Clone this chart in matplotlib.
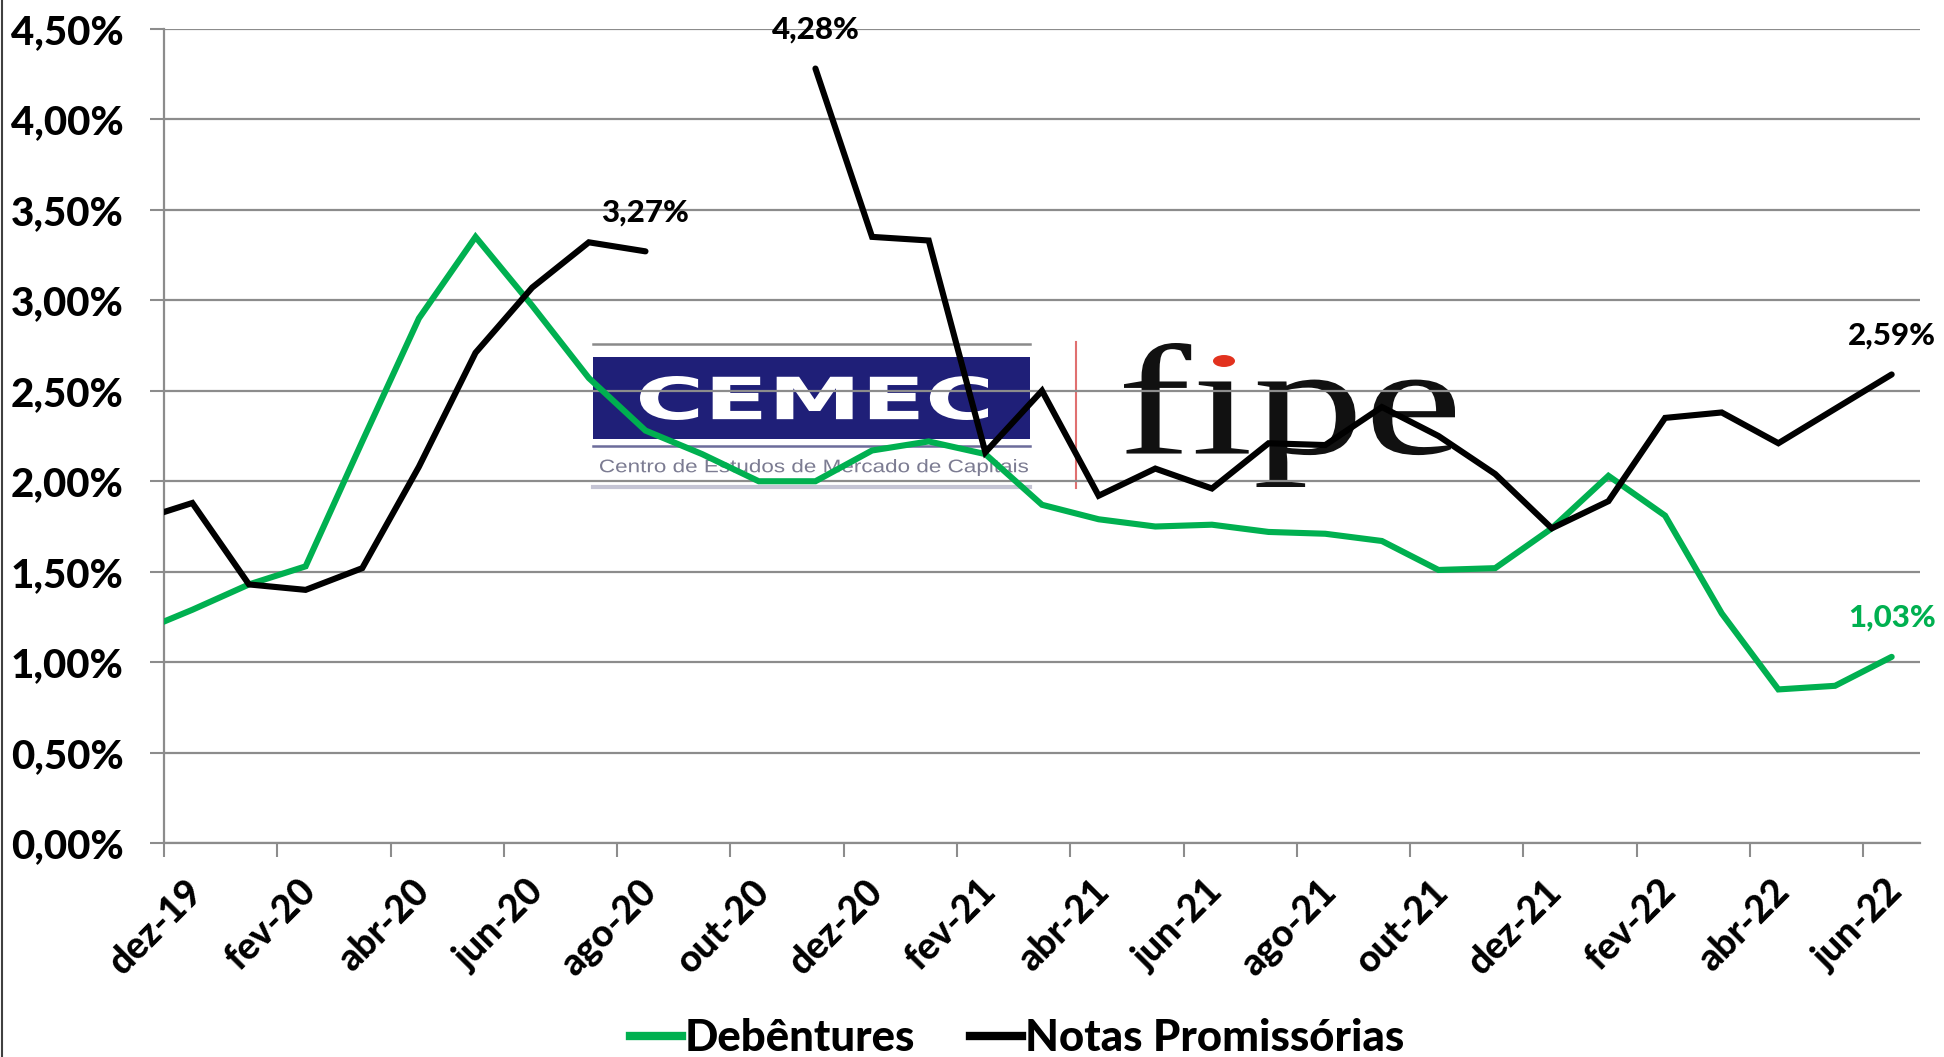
import numpy as np
import matplotlib
matplotlib.use('Agg')
import matplotlib.pyplot as plt
from matplotlib.textpath import TextPath
from matplotlib.patches import PathPatch, Rectangle, Circle
from matplotlib.font_manager import FontProperties
from matplotlib.transforms import Affine2D, ScaledTranslation
from matplotlib.lines import Line2D

plt.rcParams['font.family'] = ['Lato', 'DejaVu Sans']

# ---------------- data ----------------
months = ['nov-19', 'dez-19', 'jan-20', 'fev-20', 'mar-20', 'abr-20', 'mai-20', 'jun-20',
          'jul-20', 'ago-20', 'set-20', 'out-20', 'nov-20', 'dez-20', 'jan-21', 'fev-21',
          'mar-21', 'abr-21', 'mai-21', 'jun-21', 'jul-21', 'ago-21', 'set-21', 'out-21',
          'nov-21', 'dez-21', 'jan-22', 'fev-22', 'mar-22', 'abr-22', 'mai-22', 'jun-22']

debentures = [1.16, 1.29, 1.43, 1.53, 2.22, 2.90, 3.35, 2.97,
              2.57, 2.28, 2.15, 2.00, 2.00, 2.17, 2.22, 2.15,
              1.87, 1.79, 1.75, 1.76, 1.72, 1.71, 1.67, 1.51,
              1.52, 1.74, 2.03, 1.81, 1.27, 0.85, 0.87, 1.03]

notas = [1.78, 1.88, 1.43, 1.40, 1.52, 2.08, 2.71, 3.07,
         3.32, 3.27, np.nan, np.nan, 4.28, 3.35, 3.33, 2.16,
         2.50, 1.92, 2.07, 1.96, 2.21, 2.20, 2.41, 2.25,
         2.04, 1.74, 1.89, 2.35, 2.38, 2.21, 2.40, 2.59]

series_names = ['Debêntures', 'Notas Promissórias']
y_ticks = [0.0, 0.5, 1.0, 1.5, 2.0, 2.5, 3.0, 3.5, 4.0, 4.5]
y_tick_labels = ['0,00%', '0,50%', '1,00%', '1,50%', '2,00%', '2,50%', '3,00%', '3,50%', '4,00%', '4,50%']
x_tick_labels = months[1::2]   # dez-19, fev-20, ..., jun-22

labelled = [('notas', 'ago-20'), ('notas', 'nov-20'), ('notas', 'jun-22'), ('deb', 'jun-22')]

GREEN = '#00B050'
BLACK = '#000000'
GRID = '#8c8c8c'
WEIGHT = 'black'

W, H = 1944, 1057
fig = plt.figure(figsize=(W / 100, H / 100), dpi=100)
ax = fig.add_axes([164 / W, 1 - 843.3 / H, (1920 - 164) / W, (843.3 - 28.7) / H])

x = np.arange(len(months)) - 0.5
ax.plot(x, debentures, color=GREEN, lw=4.4, solid_capstyle='round', solid_joinstyle='miter', zorder=3)
ax.plot(x, notas, color=BLACK, lw=4.4, solid_capstyle='round', solid_joinstyle='miter', zorder=4)

ax.set_xlim(0, 31)
ax.set_ylim(0, 4.5)

ax.set_yticks(y_ticks)
ax.set_yticklabels(y_tick_labels, fontsize=29, fontweight=WEIGHT)
ax.tick_params(axis='y', length=10, width=1.5, color=GRID, pad=19)
ax.yaxis.grid(True, color=GRID, lw=1.6)
ax.set_axisbelow(True)

major_pos = np.arange(0, 31, 2)
ax.set_xticks(major_pos)
ax.set_xticklabels([''] * len(major_pos))
ax.tick_params(axis='x', which='major', length=10, width=1.5, color=GRID)
ax.set_xticks(major_pos + 0.5, minor=True)
ax.tick_params(axis='x', which='minor', length=0, pad=22)
ax.set_xticklabels(x_tick_labels, minor=True, rotation=45, ha='right', va='top',
                   rotation_mode='anchor', fontsize=27, fontweight=WEIGHT)
shift = ScaledTranslation(-7 / 100, 0, fig.dpi_scale_trans)
for lab in ax.get_xticklabels(minor=True):
    lab.set_transform(lab.get_transform() + shift)

for s in ['top', 'right']:
    ax.spines[s].set_visible(False)
for s in ['left', 'bottom']:
    ax.spines[s].set_color(GRID)
    ax.spines[s].set_linewidth(1.6)

def fmt(v):
    return f'{v:.2f}%'.replace('.', ',')

for ser, m in labelled:
    i = months.index(m)
    vals = notas if ser == 'notas' else debentures
    col = BLACK if ser == 'notas' else GREEN
    ax.annotate(fmt(vals[i]), xy=(x[i], vals[i]), xytext=(0, 28), textcoords='offset points',
                ha='center', va='center', fontsize=22.5, fontweight=WEIGHT, color=col, zorder=6)

handles = [Line2D([], [], color=GREEN, lw=6), Line2D([], [], color=BLACK, lw=6)]
fig.legend(handles, series_names, loc='center', bbox_to_anchor=(1017 / W, 1 - 1038 / H),
           bbox_transform=fig.transFigure, ncol=2, frameon=False,
           prop={'weight': WEIGHT, 'size': 31.5, 'family': ['Lato', 'DejaVu Sans']},
           handlelength=1.2, handletextpad=0.06, columnspacing=1.25)

# ---------------- logo ----------------
def fx(px):
    return px / W

def fy(py):
    return 1 - py / H

def fit_text(s, x0, yt, x1, yb, color, prop, z=0.3):
    tp = TextPath((0, 0), s, size=100, prop=prop)
    ext = tp.get_extents()
    sx = (fx(x1) - fx(x0)) / ext.width
    sy = (fy(yt) - fy(yb)) / ext.height
    tr = Affine2D().translate(-ext.x0, -ext.y0).scale(sx, sy).translate(fx(x0), fy(yb)) + fig.transFigure
    p = PathPatch(tp, transform=tr, facecolor=color, edgecolor='none', zorder=z)
    ax.add_artist(p)

def hline(y, x0, x1, color, lw, z=0.25):
    ax.add_artist(Line2D([fx(x0), fx(x1)], [fy(y), fy(y)], transform=fig.transFigure,
                         color=color, lw=lw, zorder=z))

ax.add_artist(Rectangle((fx(593), fy(439)), fx(1030) - fx(593), fy(357) - fy(439),
                        transform=fig.transFigure, facecolor='#1f1f78', edgecolor='none', zorder=0.2))
hline(344, 593, 1030, '#8a8a8a', 1.8)
hline(446, 593, 1030, '#6c6c9a', 1.8)
hline(487, 593, 1030, '#c4c4d4', 3.0)
fit_text('CEMEC', 640, 376, 988, 420, 'white',
         FontProperties(family='DejaVu Sans', weight='bold'))
fit_text('Centro de Estudos de Mercado de Capitais', 600, 459, 1028, 476, '#7c7c92',
         FontProperties(family='Liberation Sans'))

ax.add_artist(Line2D([fx(1076), fx(1076)], [fy(342), fy(488)], transform=fig.transFigure,
                     color='#e07070', lw=1.5, zorder=0.25))
fit_text('f\u0131pe', 1124, 343, 1455, 487, '#111111',
         FontProperties(family='Liberation Serif'))
ax.add_artist(Circle((fx(1224), fy(361)), radius=11 / W, transform=fig.transFigure,
                     facecolor='#e2321e', edgecolor='none', zorder=0.3))

fig.add_artist(Line2D([0.0008, 0.0008], [0, 1], transform=fig.transFigure, color='#404040', lw=1.5))

fig.savefig('out.png', dpi=100, facecolor='white')
